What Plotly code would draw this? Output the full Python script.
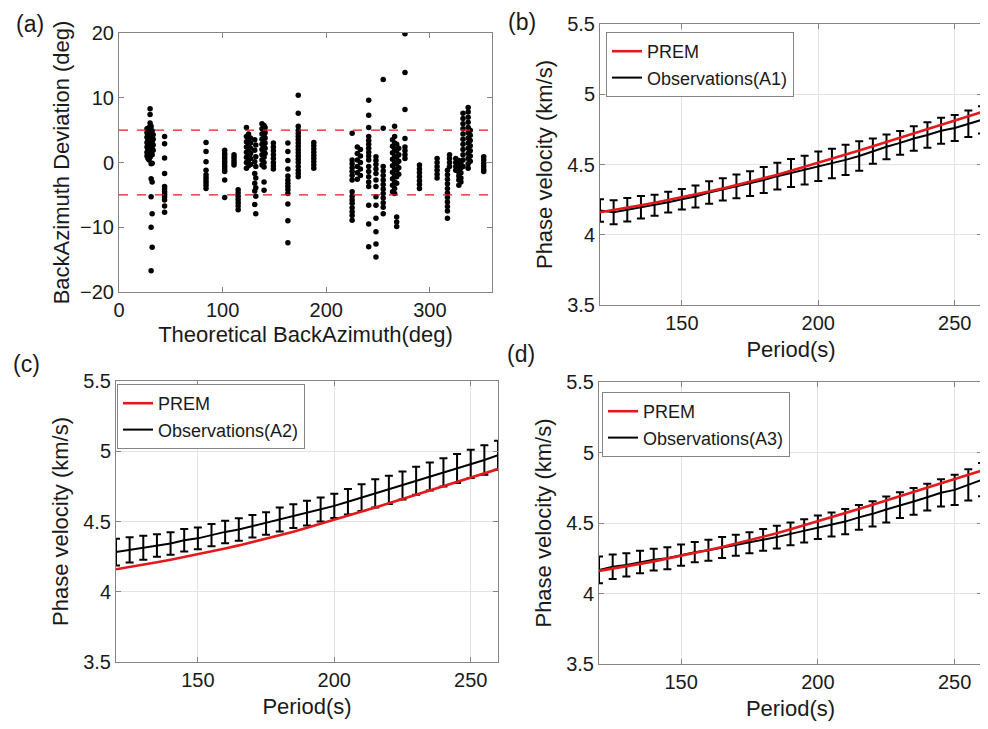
import plotly.graph_objects as go
from plotly.subplots import make_subplots

# ---- (a) back-azimuth deviation ----
baz_theo = [
    27, 27, 27, 27, 27, 27, 27,
    28, 28, 28, 28, 28, 28, 28,
    29, 29, 29, 29, 29, 29, 29,
    30, 30, 30, 30, 30, 30, 30, 30, 30,
    31, 31, 31, 31, 31, 31, 31, 31, 31, 31,
    32, 32, 32, 32, 32, 32, 32, 32, 32, 32,
    33, 33, 33, 33,
    44, 44, 44, 44, 44, 44, 44, 44, 44, 44, 44, 44,
    84, 84, 84, 84, 84, 84, 84, 84, 84, 84,
    102, 102, 102, 102, 102, 102, 102, 102, 102, 102, 102,
    111, 111, 111, 111, 111,
    115, 115, 115, 115, 115, 115, 115,
    123, 123, 123, 123, 123, 123, 123, 123,
    125, 125, 125, 125, 125, 125, 125,
    127, 127, 127, 127, 127, 127,
    131, 131, 131, 131, 131, 131, 131, 132, 132, 132, 132, 132, 132, 132,
    138, 138, 138, 138, 138, 138, 138, 138, 138,
    140, 140, 140, 140, 140, 140, 140, 140, 140, 140, 140,
    141, 141, 141, 141, 141, 141,
    149, 149, 149, 149, 149, 149, 149, 149,
    163, 163, 163, 163, 163, 163, 163, 163, 163, 163, 163, 163, 163,
    173, 173, 173, 173, 173, 173, 173, 173, 173, 173, 173, 173, 173, 173, 173, 173, 173, 173,
    188, 188, 188, 188, 188, 188, 188, 188, 188,
    225, 225, 225, 225, 225, 225, 225, 225, 225, 225, 225, 225, 225, 225, 225,
    230, 230, 230, 230, 230, 230,
    233, 233, 233, 233, 233,
    241, 241, 241, 241, 241, 241, 241, 241, 241, 241, 241, 241, 241, 241, 241, 241, 241, 241,
    248, 248, 248, 248, 248, 248, 248, 248, 248, 248, 248, 248, 248,
    255, 255, 255, 255, 255, 255, 255, 255, 255, 255, 255, 255, 255,
    264, 264, 264, 264, 264, 264, 264, 264, 264,
    266, 266, 266, 266, 266, 266, 266, 266, 266, 266, 266,
    268, 268, 268, 268, 268, 268, 268, 268, 268, 268,
    270, 270, 270, 270, 270,
    276, 276, 276, 276, 276, 276, 276, 276,
    290, 290, 290, 290, 290, 290, 290,
    307, 307, 307, 307, 307, 307,
    319, 319, 319, 319,
    317, 317, 317, 317, 317, 317, 317, 317, 317, 317, 317,
    325, 325, 325, 325,
    328, 328, 328, 328, 328, 328, 328,
    330, 330, 330, 330, 330,
    332, 332, 332, 332, 332, 332, 332, 332, 332, 332, 332,
    337, 337, 337, 337, 337, 337, 337, 337, 337, 337, 337, 337, 337,
    339, 339, 339, 339, 339, 339, 339,
    352, 352, 352, 352, 352, 352,
]
baz_dev = [
    5.2, 4.6, 3.9, 3.1, 2.4, 1.6, 1.0,
    5.0, 4.2, 3.5, 2.8, 2.0, 1.3, 0.6,
    5.4, 4.4, 3.7, 2.6, 1.8, 1.1, 0.4,
    8.3, 7.4, 6.1, 4.8, 4.0, 3.3, 2.2, 1.5, 0.8,
    5.6, 4.5, 3.0, 2.5, 1.7, -0.2, -2.5, -5.3, -10.0, -16.7,
    4.9, 4.1, 3.4, 2.9, 2.1, 1.2, -0.1, -3.0, -7.9, -13.1,
    4.3, 3.6, 2.7, 1.9,
    4.0, 2.9, 0.7, -1.7, -3.7, -4.1, -4.5, -4.9, -5.3, -5.8, -6.7, -7.7,
    3.1, 1.7, 0.1, -1.2, -1.9, -2.3, -2.7, -3.1, -3.5, -4.0,
    1.9, 1.4, 1.0, 0.6, 0.2, -0.2, -0.6, -1.0, -1.4, -2.7, -5.4,
    1.2, 0.8, 0.4, 0.0, -0.4,
    -4.2, -4.7, -5.2, -5.7, -6.2, -6.7, -7.3,
    5.4, 4.0, 3.2, 2.4, 1.6, 0.8, 0.0, -0.9,
    4.4, 3.6, 2.8, 2.0, 1.2, 0.4, -0.5,
    3.8, 3.0, 2.2, 1.4, 0.6, -0.3,
    3.5, 1.9, 0.1, -1.7, -3.2, -4.4, -6.5, 2.7, 0.9, -0.6, -2.4, -3.9, -5.2, -7.9,
    6.0, 5.2, 4.4, 3.6, 2.8, 2.0, 1.2, 0.4, -0.4,
    5.7, 4.8, 4.0, 3.2, 2.4, 1.6, 0.8, 0.0, -0.7, -3.0, -4.3,
    5.4, 4.6, 3.8, 3.0, 2.2, 1.4,
    3.0, 2.4, 1.8, 1.2, 0.6, 0.0, -0.5, -1.0,
    3.0, 1.7, 0.3, -1.0, -2.1, -2.7, -3.2, -3.7, -4.2, -4.8, -6.4, -9.0, -12.4,
    10.4, 7.6, 5.6, 5.0, 4.5, 4.0, 3.5, 3.0, 2.5, 2.0, 1.5, 1.0, 0.5, 0.0, -0.6, -1.2, -1.7, -2.2,
    3.1, 2.6, 2.1, 1.6, 1.1, 0.6, 0.1, -0.4, -0.9,
    4.5, 0.4, -0.2, -0.8, -1.4, -2.0, -2.7, -4.5, -5.2, -5.8, -6.3, -7.0, -7.6, -8.2, -8.9,
    2.4, 1.4, 0.4, -0.6, -1.6, -2.6,
    2.0, 1.0, 0.0, -1.0, -2.0,
    9.6, 7.3, 5.4, 4.0, 3.4, 2.8, 2.2, 1.6, 1.0, 0.4, -0.6, -1.4, -2.2, -3.0, -3.7, -6.6, -9.5, -13.0,
    0.9, 0.3, -0.3, -1.0, -1.7, -2.7, -3.7, -5.3, -6.6, -8.6, -10.7, -12.6, -14.6,
    12.8, 5.3, -0.6, -1.3, -2.0, -2.7, -3.4, -4.1, -4.8, -5.5, -6.2, -6.9, -7.9,
    3.5, 2.5, 1.5, 0.5, -0.5, -1.5, -2.5, -3.5, -4.5,
    5.6, 4.0, 3.0, 2.0, 1.0, 0.0, -1.0, -2.0, -3.0, -4.0, -4.8,
    2.8, 1.8, 0.8, -0.2, -1.2, -2.2, -3.2, -8.4, -9.2, -9.9,
    2.2, 1.2, 0.2, -0.8, -1.8,
    19.9, 13.9, 8.2, 3.7, 2.4, 1.8, 1.2, 0.6,
    -0.4, -1.0, -1.6, -2.2, -2.8, -3.4, -4.0,
    0.6, 0.0, -0.6, -1.2, -1.8, -2.4,
    1.2, 0.6, 0.0, -0.6,
    -1.2, -1.9, -2.6, -3.3, -4.0, -4.7, -5.4, -6.1, -6.8, -7.5, -8.6,
    0.6, 0.0, -0.6, -1.2,
    0.3, -0.3, -0.9, -1.5, -2.1, -2.7, -3.5,
    0.0, -0.8, -1.6, -2.4, -3.0,
    7.6, 6.8, 6.0, 5.2, 4.4, 3.6, 2.8, 2.0, 1.2, 0.4, -0.6,
    8.5, 7.8, 7.0, 6.2, 5.4, 4.6, 3.8, 3.0, 2.2, 1.4, 0.6, -0.2, -0.9,
    5.0, 4.2, 3.4, 2.6, 1.8, 1.0, 0.2,
    0.9, 0.4, -0.1, -0.6, -1.1, -1.4,
]
dev_limits = [5, -5]

# ---- (b)-(d) phase velocity dispersion ----
period = [120, 125, 130, 135, 140, 145, 150, 155, 160, 165, 170, 175, 180, 185, 190,
          195, 200, 205, 210, 215, 220, 225, 230, 235, 240, 245, 250, 255, 260]
prem = [4.160, 4.175, 4.192, 4.210, 4.228, 4.247, 4.266, 4.287, 4.308, 4.330, 4.353,
        4.377, 4.400, 4.427, 4.455, 4.483, 4.515, 4.543, 4.572, 4.600, 4.630, 4.660,
        4.690, 4.720, 4.750, 4.780, 4.810, 4.840, 4.873]

obs_a1 = [4.172, 4.160, 4.178, 4.196, 4.210, 4.232, 4.252, 4.272, 4.300, 4.323, 4.344,
          4.364, 4.390, 4.417, 4.440, 4.460, 4.487, 4.507, 4.533, 4.560, 4.595, 4.626,
          4.654, 4.685, 4.710, 4.740, 4.760, 4.790, 4.818]
err_a1 = [0.080, 0.086, 0.083, 0.080, 0.075, 0.074, 0.073, 0.078, 0.080, 0.080, 0.084,
          0.088, 0.092, 0.095, 0.100, 0.102, 0.105, 0.105, 0.108, 0.105, 0.090, 0.088,
          0.085, 0.088, 0.090, 0.093, 0.093, 0.095, 0.097]

obs_a2 = [4.282, 4.298, 4.313, 4.330, 4.344, 4.367, 4.380, 4.403, 4.426, 4.443, 4.467,
          4.486, 4.514, 4.538, 4.559, 4.585, 4.611, 4.640, 4.670, 4.700, 4.725, 4.756,
          4.790, 4.820, 4.850, 4.877, 4.910, 4.938, 4.972]
err_a2 = [0.095, 0.090, 0.085, 0.080, 0.080, 0.080, 0.078, 0.080, 0.080, 0.080, 0.080,
          0.080, 0.085, 0.085, 0.088, 0.085, 0.086, 0.091, 0.095, 0.100, 0.100, 0.100,
          0.100, 0.100, 0.100, 0.103, 0.100, 0.105, 0.103]

obs_a3 = [4.167, 4.189, 4.203, 4.224, 4.240, 4.250, 4.272, 4.293, 4.307, 4.326, 4.342,
          4.360, 4.380, 4.400, 4.423, 4.444, 4.470, 4.490, 4.510, 4.540, 4.565, 4.596,
          4.627, 4.653, 4.683, 4.714, 4.735, 4.770, 4.807]
err_a3 = [0.095, 0.087, 0.083, 0.080, 0.077, 0.078, 0.075, 0.072, 0.074, 0.075, 0.075,
          0.075, 0.077, 0.080, 0.080, 0.083, 0.084, 0.085, 0.089, 0.087, 0.089, 0.092,
          0.091, 0.095, 0.095, 0.097, 0.107, 0.111, 0.118]

panels = [
    ("Observations(A1)", obs_a1, err_a1, 1, 2, "legend"),
    ("Observations(A2)", obs_a2, err_a2, 2, 1, "legend2"),
    ("Observations(A3)", obs_a3, err_a3, 2, 2, "legend3"),
]

FONT = "Liberation Sans, Arial, sans-serif"
TXT = "#1a1a1a"
AX = "#858585"
GRID = "#e3e3e3"
RED = "#e3191c"

fig = make_subplots(rows=2, cols=2)

fig.add_trace(go.Scatter(x=baz_theo, y=baz_dev, mode="markers",
                         marker=dict(color="black", size=5.5),
                         showlegend=False), row=1, col=1)
for lim in dev_limits:
    fig.add_trace(go.Scatter(x=[0, 360], y=[lim, lim], mode="lines",
                             line=dict(color=RED, width=1.2, dash="dash"),
                             showlegend=False), row=1, col=1)

for name, obs, err, r, c, leg in panels:
    fig.add_trace(go.Scatter(x=period, y=obs, mode="lines", name=name,
                             line=dict(color="black", width=2),
                             error_y=dict(type="data", array=err, visible=True,
                                          color="black", thickness=2, width=4),
                             legend=leg, legendrank=2), row=r, col=c)
    fig.add_trace(go.Scatter(x=period, y=prem, mode="lines", name="PREM",
                             line=dict(color=RED, width=2.6),
                             legend=leg, legendrank=1), row=r, col=c)

# the page body puts the figure 8px right and down, so take that off every position
W, H = 988, 729
OFF = 8
def px_x(v):
    return (v - OFF) / W
def px_y(v):
    return (H - (v - OFF)) / H
def xd(a, b):
    return [px_x(a), px_x(b)]
def yd(top, bot):
    return [px_y(bot), px_y(top)]

axis_common = dict(showline=True, linecolor=AX, linewidth=1, mirror="ticks",
                   ticks="inside", ticklen=5, tickcolor=AX, zeroline=False,
                   automargin=False,
                   tickfont=dict(size=20, color=TXT, family=FONT),
                   title_font=dict(size=22, color=TXT, family=FONT))

fig.update_layout(
    xaxis=dict(domain=xd(119, 492), range=[0, 360], tickvals=[0, 100, 200, 300],
               showgrid=False, title=dict(text="Theoretical BackAzimuth(deg)", standoff=6),
               **axis_common),
    yaxis=dict(domain=yd(33, 292), range=[-20, 20], tickvals=[-20, -10, 0, 10, 20],
               showgrid=False, title=dict(text="BackAzimuth Deviation (deg)", standoff=4),
               **axis_common),
    xaxis2=dict(domain=xd(600, 982), range=[120, 260], tickvals=[150, 200, 250],
                showgrid=True, gridcolor=GRID, title=dict(text="Period(s)", standoff=8),
                **axis_common),
    yaxis2=dict(domain=yd(24, 305), range=[3.5, 5.5], dtick=0.5,
                showgrid=True, gridcolor=GRID, title=dict(text="Phase velocity (km/s)", standoff=8),
                **axis_common),
    xaxis3=dict(domain=xd(116, 498), range=[120, 260], tickvals=[150, 200, 250],
                showgrid=True, gridcolor=GRID, title=dict(text="Period(s)", standoff=8),
                **axis_common),
    yaxis3=dict(domain=yd(381, 662), range=[3.5, 5.5], dtick=0.5,
                showgrid=True, gridcolor=GRID, title=dict(text="Phase velocity (km/s)", standoff=8),
                **axis_common),
    xaxis4=dict(domain=xd(599, 982), range=[120, 260], tickvals=[150, 200, 250],
                showgrid=True, gridcolor=GRID, title=dict(text="Period(s)", standoff=8),
                **axis_common),
    yaxis4=dict(domain=yd(382, 664), range=[3.5, 5.5], dtick=0.5,
                showgrid=True, gridcolor=GRID, title=dict(text="Phase velocity (km/s)", standoff=8),
                **axis_common),
)

legend_style = dict(xanchor="left", yanchor="top", bgcolor="white", bordercolor=AX,
                    borderwidth=1, itemwidth=30, tracegroupgap=0,
                    font=dict(size=18, color=TXT, family=FONT))
fig.update_layout(
    legend=dict(x=px_x(606), y=px_y(32), **legend_style),
    legend2=dict(x=px_x(117), y=px_y(384), **legend_style),
    legend3=dict(x=px_x(602), y=px_y(392), **legend_style),
)

for txt, px, py in [("(a)", 30, 24), ("(b)", 522, 22), ("(c)", 26, 364), ("(d)", 521, 354)]:
    fig.add_annotation(text=txt, x=px_x(px), y=px_y(py), xref="paper", yref="paper",
                       xanchor="center", yanchor="middle", showarrow=False,
                       font=dict(size=23, color=TXT, family=FONT))

fig.update_layout(width=W, height=H,
                  margin=dict(l=0, r=0, t=0, b=0, autoexpand=False),
                  paper_bgcolor="white", plot_bgcolor="white",
                  font=dict(family=FONT, color=TXT))

fig.write_html("out.html")
